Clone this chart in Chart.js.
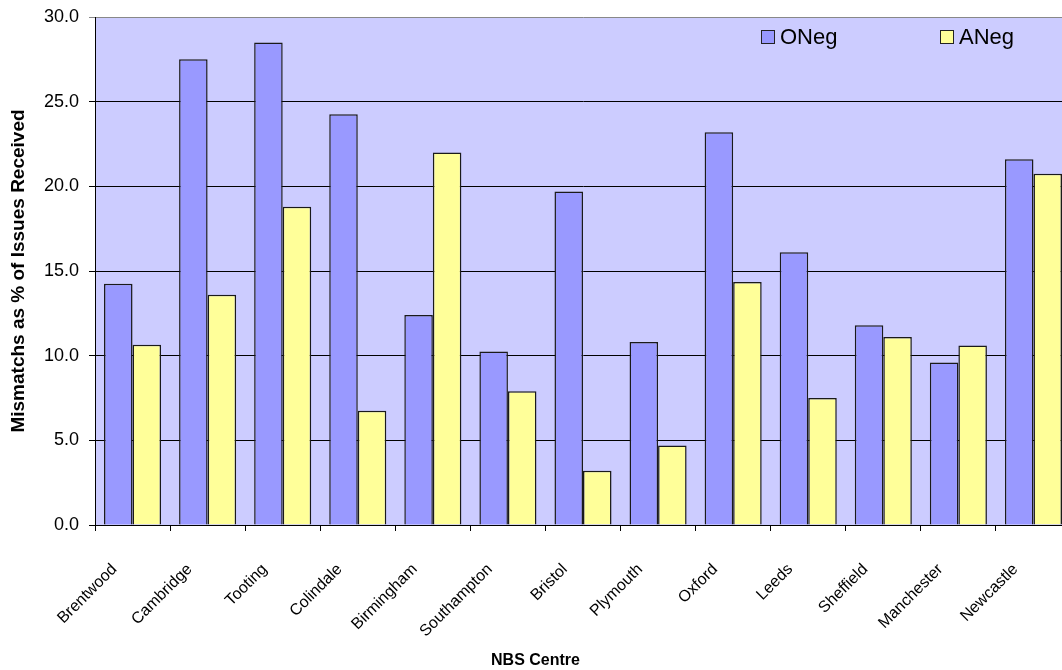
<!DOCTYPE html>
<html>
<head>
<meta charset="utf-8">
<script src="https://cdn.jsdelivr.net/npm/chart.js@4.4.1/dist/chart.umd.min.js"></script>
<style>
  html, body { margin: 0; padding: 0; background: #fff; overflow: hidden; }
  #wrap { position: relative; width: 1062px; height: 670px; overflow: hidden; }
  #legend { position: absolute; left: 0; top: 0; font-family: "Liberation Sans", Arial, sans-serif; font-size: 22px; color: #000; }
  .item { position: absolute; white-space: nowrap; }
  .box { position: absolute; width: 12px; height: 12px; border: 1px solid #222; }
  .txt { position: absolute; line-height: 1; }
</style>
</head>
<body>
<div id="wrap">
  <canvas id="chart" width="1071" height="670"></canvas>
  <div id="legend"></div>
</div>
<script>
/* ---------- Datos ---------- */
const centres = ["Brentwood", "Cambridge", "Tooting", "Colindale", "Birmingham", "Southampton",
                 "Bristol", "Plymouth", "Oxford", "Leeds", "Sheffield", "Manchester", "Newcastle"];
const oNeg = [14.25, 27.5, 28.5, 24.25, 12.4, 10.25, 19.7, 10.8, 23.2, 16.1, 11.8, 9.6, 21.6];
const aNeg = [10.65, 13.6, 18.8, 6.75, 22.0, 7.9, 3.2, 4.7, 14.35, 7.5, 11.1, 10.6, 20.75];
const yTicks = [0, 5, 10, 15, 20, 25, 30];

const FONT = "'Liberation Sans', Arial, sans-serif";

/* ---------- Fondo del área del gráfico ---------- */
const plotBg = {
  id: "plotBg",
  beforeDraw(chart) {
    const { ctx, chartArea: a } = chart;
    ctx.save();
    ctx.fillStyle = "#CCCCFF";
    ctx.fillRect(a.left, a.top, a.right - a.left, a.bottom - a.top);
    ctx.restore();
  }
};

const chart = new Chart(document.getElementById("chart"), {
  type: "bar",
  data: {
    labels: centres,
    datasets: [
      { label: "ONeg", data: oNeg, backgroundColor: "#9999FF", borderColor: "#1a1a1a", borderWidth: 1.5 },
      { label: "ANeg", data: aNeg, backgroundColor: "#FFFF99", borderColor: "#1a1a1a", borderWidth: 1.5 }
    ]
  },
  options: {
    responsive: false,
    animation: false,
    layout: { padding: { top: 17, left: 0, right: 0, bottom: 0 } },
    datasets: { bar: { categoryPercentage: 0.76, barPercentage: 1.0 } },
    plugins: {
      legend: { display: false },
      tooltip: { enabled: false },
      title: {
        display: true,
        position: "bottom",
        text: "NBS Centre",
        color: "#000",
        font: { family: FONT, size: 16, weight: "bold", lineHeight: 1.2 },
        padding: { top: 0, bottom: 0 }
      }
    },
    scales: {
      x: {
        afterFit: (s) => { s.height = 125.8; s.paddingLeft = 0; s.paddingRight = 0; },
        grid: { drawOnChartArea: false, drawTicks: true, tickLength: 6, color: "#000", offset: true },
        border: { color: "#000", width: 1 },
        ticks: {
          autoSkip: false, maxRotation: 45, minRotation: 45,
          padding: 29, labelOffset: -18,
          color: "#000", font: { family: FONT, size: 16 }
        }
      },
      y: {
        min: 0, max: 30,
        afterFit: (s) => { s.width = 95; s.paddingTop = 0; s.paddingBottom = 0; },
        afterBuildTicks: (s) => { s.ticks = yTicks.map(v => ({ value: v })); },
        grid: {
          color: (c) => (c.tick && c.tick.value === 30 ? "#888" : "#000"),
          tickLength: 6, lineWidth: 1
        },
        border: { color: "#000", width: 1 },
        ticks: {
          padding: 10, color: "#000",
          font: { family: FONT, size: 18 },
          callback: (v) => Number(v).toFixed(1)
        },
        title: {
          display: true,
          text: "Mismatchs as % of Issues Received",
          color: "#000",
          font: { family: FONT, size: 19, weight: "bold", lineHeight: 1.2 },
          padding: { top: 7, bottom: 0 }
        }
      }
    }
  },
  plugins: [plotBg]
});

/* ---------- Leyenda ---------- */
const legendPos = [{ box: 761, txt: 780 }, { box: 940, txt: 959 }];
const legend = document.getElementById("legend");
chart.data.datasets.forEach((ds, i) => {
  const item = document.createElement("div");
  item.className = "item";
  item.innerHTML =
    `<span class="box" style="left:${legendPos[i].box}px;top:30px;background:${ds.backgroundColor}"></span>` +
    `<span class="txt" style="left:${legendPos[i].txt}px;top:26px">${ds.label}</span>`;
  legend.appendChild(item);
});
</script>
</body>
</html>
